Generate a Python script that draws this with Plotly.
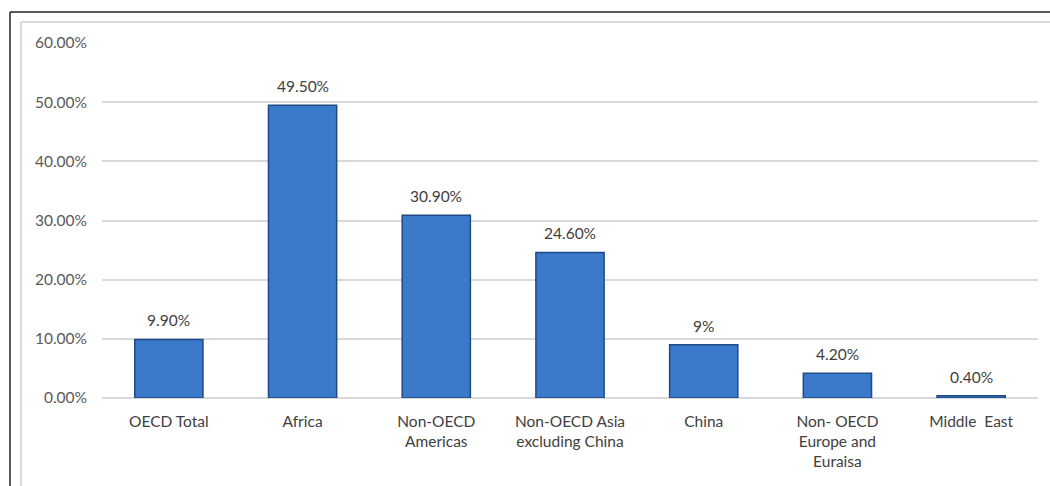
import plotly.graph_objects as go

categories = ["OECD Total", "Africa", "Non-OECD<br>Americas", "Non-OECD Asia<br>excluding China",
              "China", "Non- OECD<br>Europe and<br>Euraisa", "Middle  East"]
values = [0.099, 0.495, 0.309, 0.246, 0.09, 0.042, 0.004]
value_labels = ["9.90%", "49.50%", "30.90%", "24.60%", "9%", "4.20%", "0.40%"]
y_ticks = [0, 0.1, 0.2, 0.3, 0.4, 0.5, 0.6]

W, H = 1050, 486
ML, MR, MT, MB = 102, 12, 43, 88
pw, ph = W - ML - MR, H - MT - MB
FONT = "Lato, Open Sans, sans-serif"

def px(x):
    return (x - ML) / pw

def py(y):
    return (H - MB - y) / ph

fig = go.Figure()
fig.add_trace(go.Bar(
    x=categories, y=values,
    marker=dict(color="#3b7acb", line=dict(color="#1f4a85", width=1.5)),
))

annotations = [
    dict(x=c, y=v, text=t, showarrow=False, yanchor="bottom", yshift=8,
         font=dict(size=15.5, color="#404040", family=FONT))
    for c, v, t in zip(categories, values, value_labels)
]

shapes = [
    dict(type="line", xref="paper", yref="paper", x0=px(21), x1=px(1052), y0=py(22), y1=py(22),
         line=dict(color="#d9d9d9", width=2)),
    dict(type="line", xref="paper", yref="paper", x0=px(21), x1=px(21), y0=py(22), y1=py(490),
         line=dict(color="#d9d9d9", width=2)),
    dict(type="line", xref="paper", yref="paper", x0=px(10), x1=px(1052), y0=py(12), y1=py(12),
         line=dict(color="#222222", width=1.5)),
    dict(type="line", xref="paper", yref="paper", x0=px(10), x1=px(10), y0=py(12), y1=py(490),
         line=dict(color="#222222", width=1.5)),
]

fig.update_layout(
    width=W, height=H,
    margin=dict(l=ML, r=MR, t=MT, b=MB),
    paper_bgcolor="white", plot_bgcolor="white",
    bargap=0.49, showlegend=False,
    font=dict(family=FONT, size=15.5, color="#595959"),
    shapes=shapes, annotations=annotations,
    xaxis=dict(showgrid=False, showline=False, ticks="", tickfont=dict(size=15.5, color="#404040"),
               tickangle=0, ticklabelstandoff=12),
    yaxis=dict(range=[0, 0.6], tickvals=y_ticks, tickformat=".2%", showgrid=True,
               gridcolor="#d9d9d9", gridwidth=1.5, zeroline=True, zerolinecolor="#d9d9d9",
               zerolinewidth=1.5, showline=False, ticks="", ticklabelstandoff=14,
               tickfont=dict(size=15.5, color="#595959")),
)

fig.write_html("out.html")
